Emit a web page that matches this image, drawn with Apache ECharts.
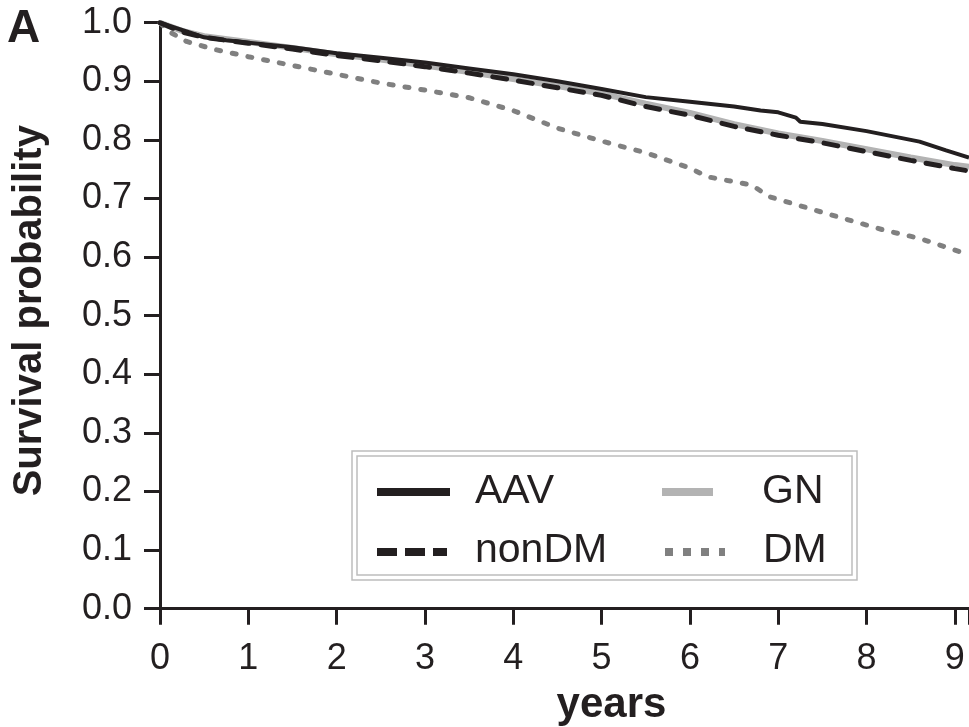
<!DOCTYPE html>
<html>
<head>
<meta charset="utf-8">
<title>Survival probability</title>
<script src="https://cdn.jsdelivr.net/npm/echarts@6/dist/echarts.min.js"></script>
<style>
  html, body { margin: 0; padding: 0; background: #fff; }
  #main { width: 969px; height: 727px; }
</style>
</head>
<body>
<div id="main"></div>
<script>
// Kaplan-Meier curves: [years, survival probability]
var aavCurve = [
  [0, 1.0], [0.1, 0.995], [0.3, 0.985], [0.5, 0.975], [0.75, 0.970], [1.0, 0.966],
  [1.5, 0.958], [2.0, 0.948], [2.5, 0.940], [3.0, 0.932], [3.5, 0.922], [4.0, 0.912],
  [4.5, 0.900], [5.0, 0.887], [5.5, 0.873], [6.0, 0.865], [6.5, 0.857], [6.8, 0.850],
  [7.0, 0.847], [7.2, 0.838], [7.25, 0.831], [7.5, 0.827], [8.0, 0.815], [8.3, 0.806],
  [8.6, 0.797], [8.9, 0.782], [9.16, 0.770]
];
var nonDmCurve = [
  [0, 1.0], [0.25, 0.984], [0.5, 0.975], [1.0, 0.965], [1.5, 0.955], [2.0, 0.944],
  [2.5, 0.935], [3.0, 0.925], [3.5, 0.914], [4.0, 0.902], [4.5, 0.889], [5.0, 0.876],
  [5.5, 0.857], [6.0, 0.842], [6.5, 0.823], [7.0, 0.808], [7.5, 0.795], [8.0, 0.780],
  [8.5, 0.765], [9.0, 0.751], [9.16, 0.747]
];
var gnCurve = [
  [0, 1.0], [0.25, 0.986], [0.5, 0.977], [1.0, 0.967], [1.5, 0.957], [2.0, 0.946],
  [2.5, 0.937], [3.0, 0.927], [3.5, 0.916], [4.0, 0.904], [4.5, 0.892], [5.0, 0.879],
  [5.5, 0.862], [6.0, 0.846], [6.5, 0.827], [7.0, 0.811], [7.5, 0.798], [8.0, 0.784],
  [8.5, 0.770], [9.0, 0.757], [9.16, 0.754]
];
var dmCurve = [
  [0, 1.0], [0.1, 0.985], [0.3, 0.968], [0.6, 0.955], [1.0, 0.942], [1.5, 0.927],
  [2.0, 0.912], [2.5, 0.897], [3.0, 0.885], [3.5, 0.872], [4.0, 0.850], [4.5, 0.820],
  [5.0, 0.798], [5.5, 0.778], [6.0, 0.752], [6.2, 0.737], [6.7, 0.723], [6.9, 0.703],
  [7.6, 0.672], [8.2, 0.646], [8.6, 0.632], [9.16, 0.604]
];
var seriesNames = ['AAV', 'nonDM', 'GN', 'DM'];
var yearTicks = [0, 1, 2, 3, 4, 5, 6, 7, 8, 9];

var ink = '#231f20';
var myChart = echarts.init(document.getElementById('main'));

myChart.setOption({
  backgroundColor: '#fff',
  animation: false,
  grid: { left: 160, right: 0, top: 22.7, bottom: 118.3, outerBoundsMode: 'none', containLabel: false },
  xAxis: {
    type: 'value',
    min: 0,
    max: 9.16,
    interval: 1,
    name: 'years',
    nameLocation: 'middle',
    nameGap: 76,
    nameTextStyle: {
      color: ink, fontSize: 42, fontWeight: 'bold', fontFamily: 'Liberation Sans, Arial',
      padding: [0, 0, 0, 94]
    },
    axisLine: { lineStyle: { color: ink, width: 3 } },
    axisTick: { length: 16, lineStyle: { color: ink, width: 3 } },
    axisLabel: {
      margin: 32,
      color: ink, fontSize: 36, fontFamily: 'Liberation Sans, Arial',
      formatter: function (v) { return yearTicks.indexOf(v) > -1 ? String(v) : ''; }
    },
    splitLine: { show: false }
  },
  yAxis: {
    type: 'value',
    min: 0,
    max: 1,
    interval: 0.1,
    name: 'Survival probability',
    nameLocation: 'middle',
    nameRotate: 90,
    nameGap: 110,
    nameTextStyle: {
      color: ink, fontSize: 40, fontWeight: 'bold', fontFamily: 'Liberation Sans, Arial',
      padding: [0, 0, 0, 10]
    },
    axisLine: { show: true, lineStyle: { color: ink, width: 3 } },
    axisTick: { show: true, length: 16, lineStyle: { color: ink, width: 3 } },
    axisLabel: {
      margin: 28,
      color: ink, fontSize: 36, fontFamily: 'Liberation Sans, Arial',
      formatter: function (v) { return v.toFixed(1); }
    },
    splitLine: { show: false }
  },
  graphic: [
    { type: 'text', left: 7, top: 6, style: { text: 'A', fill: ink, font: 'bold 46px Liberation Sans, Arial' } },
    // legend box (double border)
    { type: 'rect', shape: { x: 352, y: 451, width: 505, height: 129 }, style: { fill: '#fff', stroke: '#bdbdbd', lineWidth: 1.5 }, z: 10 },
    { type: 'rect', shape: { x: 357, y: 456, width: 495, height: 119 }, style: { fill: 'none', stroke: '#bdbdbd', lineWidth: 1.5 }, z: 10 },
    { type: 'line', shape: { x1: 377, y1: 492, x2: 450, y2: 492 }, style: { stroke: ink, lineWidth: 8 }, z: 11 },
    { type: 'line', shape: { x1: 377, y1: 552, x2: 447, y2: 552 }, style: { stroke: ink, lineWidth: 8, lineDash: [20, 8] }, z: 11 },
    { type: 'line', shape: { x1: 662, y1: 492, x2: 713, y2: 492 }, style: { stroke: '#b3b3b3', lineWidth: 8 }, z: 11 },
    { type: 'line', shape: { x1: 665, y1: 552, x2: 725, y2: 552 }, style: { stroke: '#808080', lineWidth: 8, lineDash: [8, 10] }, z: 11 },
    { type: 'text', x: 475, y: 492, style: { text: seriesNames[0], fill: ink, font: '41px Liberation Sans, Arial', textVerticalAlign: 'middle' }, z: 11 },
    { type: 'text', x: 475, y: 551, style: { text: seriesNames[1], fill: ink, font: '41px Liberation Sans, Arial', textVerticalAlign: 'middle' }, z: 11 },
    { type: 'text', x: 762, y: 492, style: { text: seriesNames[2], fill: ink, font: '41px Liberation Sans, Arial', textVerticalAlign: 'middle' }, z: 11 },
    { type: 'text', x: 763, y: 551, style: { text: seriesNames[3], fill: ink, font: '41px Liberation Sans, Arial', textVerticalAlign: 'middle' }, z: 11 }
  ],
  series: [
    {
      name: seriesNames[2], type: 'line', data: gnCurve, showSymbol: false, symbol: 'none',
      lineStyle: { color: '#b3b3b3', width: 6 }, z: 2
    },
    {
      name: seriesNames[3], type: 'line', data: dmCurve, showSymbol: false, symbol: 'none',
      lineStyle: { color: '#808080', width: 5, type: [4, 12], cap: 'round' }, z: 3
    },
    {
      name: seriesNames[1], type: 'line', data: nonDmCurve, showSymbol: false, symbol: 'none',
      lineStyle: { color: ink, width: 5, type: [14, 12], cap: 'round' }, z: 4
    },
    {
      name: seriesNames[0], type: 'line', data: aavCurve, showSymbol: false, symbol: 'none',
      lineStyle: { color: ink, width: 4 }, z: 5
    }
  ]
});
</script>
</body>
</html>
